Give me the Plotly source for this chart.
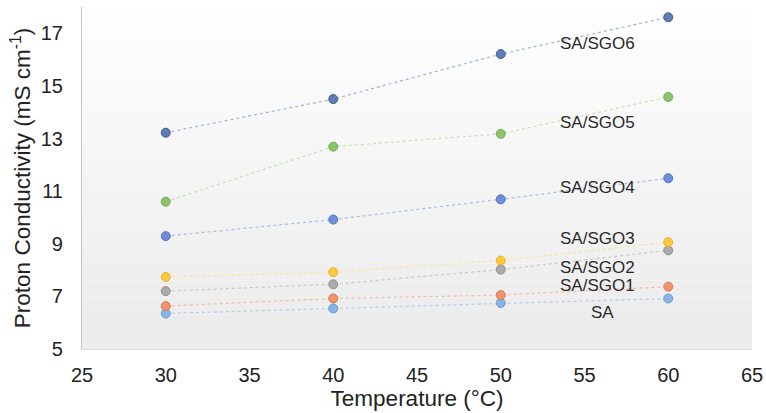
import plotly.graph_objects as go

temps = [30, 40, 50, 60]
series_names = ["SA", "SA/SGO1", "SA/SGO2", "SA/SGO3", "SA/SGO4", "SA/SGO5", "SA/SGO6"]
sa = [6.35, 6.54, 6.75, 6.92]
sgo1 = [6.63, 6.92, 7.05, 7.37]
sgo2 = [7.20, 7.46, 8.02, 8.75]
sgo3 = [7.74, 7.92, 8.36, 9.06]
sgo4 = [9.29, 9.92, 10.69, 11.49]
sgo5 = [10.60, 12.69, 13.18, 14.58]
sgo6 = [13.22, 14.50, 16.21, 17.61]
values = [sa, sgo1, sgo2, sgo3, sgo4, sgo5, sgo6]

label_x = [56.1, 55.8, 55.8, 55.8, 55.8, 55.8, 55.8]
label_y = [6.40, 7.42, 8.10, 9.20, 11.14, 13.60, 16.63]

marker_colors = ["#86b4e4", "#f0936a", "#ababab", "#fcc93c", "#6e8fd8", "#8cc46c", "#5d7db3"]
outline_colors = ["#6a9ad0", "#d8785a", "#8f8f8f", "#e6b22a", "#5474c0", "#72ab56", "#465f8f"]
line_colors = ["#b3cdee", "#f3bda5", "#cacaca", "#fde39a", "#a9bce6", "#c8e1b6", "#a3b4d2"]

fig = go.Figure()

# subtle vertical gradient background
nb = 20
for i in range(nb):
    g = int(236 + (254 - 236) * i / (nb - 1))
    fig.add_shape(type="rect", xref="paper", yref="paper",
                  x0=0, x1=1, y0=i / nb, y1=(i + 1) / nb,
                  fillcolor=f"rgb({g},{g},{g})", line_width=0, layer="below")

for name, vals, mc, oc, lc in zip(series_names, values, marker_colors, outline_colors, line_colors):
    fig.add_trace(go.Scatter(
        x=temps, y=vals, mode="lines+markers", name=name,
        line=dict(color=lc, width=1.2, dash="dot"),
        marker=dict(size=9, color=mc, line=dict(color=oc, width=1)),
        showlegend=False,
    ))

for name, lx, ly in zip(series_names, label_x, label_y):
    fig.add_annotation(x=lx, y=ly, text=name, showarrow=False,
                       font=dict(family="Liberation Sans, Arial", size=17, color="#2a2a2a"))

fig.update_layout(
    width=766, height=413,
    margin=dict(l=82, r=14, t=7, b=64),
    paper_bgcolor="white",
    plot_bgcolor="rgba(0,0,0,0)",
    font=dict(family="Liberation Sans, Arial", color="#222222"),
)
fig.update_xaxes(
    range=[25, 65], tickvals=[25, 30, 35, 40, 45, 50, 55, 60, 65],
    showgrid=False, zeroline=False, showline=True, linecolor="#dedede", linewidth=1,
    ticks="", tickfont=dict(size=20, color="#222222"), ticklabelstandoff=8,
    automargin=False,
    title=dict(text="Temperature (°C)", font=dict(size=22.5, color="#222222"), standoff=4),
)
fig.update_yaxes(
    range=[5, 18], tickvals=[5, 7, 9, 11, 13, 15, 17],
    showgrid=False, zeroline=False, showline=True, linecolor="#c4c4c4", linewidth=1.2,
    ticks="", tickfont=dict(size=20, color="#222222"), ticklabelstandoff=14,
    title=dict(text="Proton Conductivity (mS cm<sup>-1</sup>)", font=dict(size=22.5, color="#222222"), standoff=3),
)

fig.write_html("out.html")
